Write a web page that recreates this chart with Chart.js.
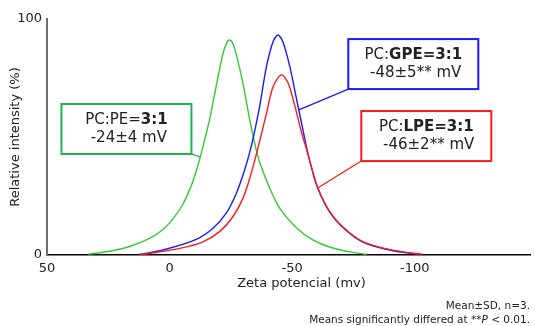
<!DOCTYPE html>
<html lang="en">
<head>
    <meta charset="UTF-8">
    <title>zeta potential</title>
    <style type="text/css">
        body{
            margin: 0;
            background: #fff;
        }
    </style>
    <script src="https://cdn.jsdelivr.net/npm/chart.js@4.4.1/dist/chart.umd.min.js"></script>
</head>
<body>
    <canvas id="myChart" width="535" height="326"></canvas>

    <script>
    // zeta potential (mV) vs relative intensity (%)
    const pePot  = [33, 23.3, 16.3, 8.2, 2.7, -1.3, -5.4, -8.9, -11, -13, -16, -19, -21.8, -23.5, -24.5, -25.7, -27.2, -29.9, -32.7, -35, -36.7, -40.8, -44.9, -51.8, -58.4, -65.3, -73.5, -80.4];
    const peInt  = [0.3, 1.8, 3.6, 7.0, 10.8, 15.2, 21.5, 29.5, 36, 43.5, 56, 71.5, 85.5, 90.3, 91.1, 89.8, 85, 72.8, 57.2, 46, 39.4, 28.4, 19.9, 11.4, 6.4, 3.4, 1.3, 0.3];

    const gpePot = [12.2, 2.7, -10.9, -17.7, -23.1, -27.2, -30.6, -33.3, -36.7, -39.5, -42.2, -44.2, -46.2, -49, -51.7, -54.4, -56, -57.5, -60.4, -65.3, -71.5, -78.8, -89.8, -101];
    const gpeInt = [0.3, 2.1, 6.6, 11.3, 17.7, 26.1, 36, 46, 62.8, 79.8, 90.4, 93.2, 90.4, 80, 66.5, 53, 45, 38.5, 28.4, 18.2, 10.9, 5.5, 2.1, 0.3];

    const lpePot = [12.2, -4.1, -13.6, -20.4, -25.8, -29.9, -32.7, -36, -39.5, -42.2, -45.6, -48.3, -51, -53.8, -55.8, -57.5, -60.4, -65.3, -71.5, -78.8, -89.8, -103];
    const lpeInt = [0, 2.8, 5.6, 9.9, 16.2, 24, 32.5, 45.2, 60, 71.3, 76.3, 73, 63.5, 52, 45, 38.6, 28.6, 18.4, 11.1, 5.7, 2.3, 0.3];

    const xTicks = [50, 0, -50, -100];
    const yTicks = [0, 100];
    const xTitle = 'Zeta potencial (mv)';

    const labelPlain = ['PC:PE=', 'PC:', 'PC:'];
    const labelBold  = ['3:1', 'GPE=3:1', 'LPE=3:1'];
    const labelZeta  = [' -24±4 mV', ' -48±5** mV', ' -46±2** mV'];

    const noteLine1 = 'Mean±SD, n=3.';
    const noteLine2 = ['Means significantly differed at **', 'P', ' < 0.01.'];

    const FONT = '"DejaVu Sans", Verdana, sans-serif';

    const toPoints = (xs, ys) => xs.map((x, i) => ({x: x, y: ys[i]}));

    //setup block
    const data = {
        datasets: [{
            label: 'PC:LPE=3:1',
            data: toPoints(lpePot, lpeInt),
            borderColor: '#ff1a1a',
            order: 0
        }, {
            label: 'PC:GPE=3:1',
            data: toPoints(gpePot, gpeInt),
            borderColor: '#1a1aff',
            order: 1
        }, {
            label: 'PC:PE=3:1',
            data: toPoints(pePot, peInt),
            borderColor: '#33cc33',
            order: 2
        }]
    };

    // boxes: centre in data units, connector end on the curve
    const boxes = [
        {cx: 17.6,   cy: 53.4, corner: 'br', tx: -12.6, ty: 41.5, color: '#1db454'},
        {cx: -99.4,  cy: 80.9, corner: 'bl', tx: -52.7, ty: 61.5, color: '#1a1aff'},
        {cx: -104.7, cy: 50.4, corner: 'bl', tx: -60.4, ty: 28.4, color: '#ff1a1a'}
    ];

    function drawMixed(ctx, parts, x, y, align) {
        let w = 0;
        parts.forEach(p => { ctx.font = p.font; w += ctx.measureText(p.t).width; });
        let sx = align === 'right' ? x - w : x - w / 2;
        ctx.textAlign = 'left';
        parts.forEach(p => {
            ctx.font = p.font;
            ctx.fillText(p.t, sx, y);
            sx += ctx.measureText(p.t).width;
        });
    }

    const notes = {
        id: 'notes',
        afterDraw(chart) {
            const ctx = chart.ctx;
            const xs = chart.scales.x, ys = chart.scales.y;
            const area = chart.chartArea;
            const bw = 130, bh = 50;
            ctx.save();
            ctx.textBaseline = 'middle';
            boxes.forEach((b, i) => {
                const cx = xs.getPixelForValue(b.cx);
                const cy = ys.getPixelForValue(b.cy);
                const l = cx - bw / 2, t = cy - bh / 2;
                ctx.strokeStyle = b.color;
                ctx.lineWidth = 1.3;
                ctx.beginPath();
                ctx.moveTo(b.corner === 'br' ? l + bw : l, t + bh);
                ctx.lineTo(xs.getPixelForValue(b.tx), ys.getPixelForValue(b.ty));
                ctx.stroke();
                ctx.fillStyle = '#fff';
                ctx.fillRect(l, t, bw, bh);
                ctx.lineWidth = 2;
                ctx.strokeRect(l, t, bw, bh);
                ctx.fillStyle = '#222';
                drawMixed(ctx, [
                    {t: labelPlain[i], font: '15px ' + FONT},
                    {t: labelBold[i], font: 'bold 15px ' + FONT}
                ], cx, cy - 9, 'center');
                drawMixed(ctx, [{t: labelZeta[i], font: '15px ' + FONT}], cx, cy + 9, 'center');
            });
            // axis title sits a little right of the plot centre in the original
            drawMixed(ctx, [{t: xTitle, font: '13px ' + FONT}], (area.left + area.right) / 2 + 13, 284, 'center');
            // footnotes
            const r = chart.width - 5;
            drawMixed(ctx, [{t: noteLine1, font: '10.5px ' + FONT}], r, 306, 'right');
            drawMixed(ctx, [
                {t: noteLine2[0], font: '10.5px ' + FONT},
                {t: noteLine2[1], font: 'italic 10.5px ' + FONT},
                {t: noteLine2[2], font: '10.5px ' + FONT}
            ], r, 320, 'right');
            ctx.restore();
        }
    };

    //config block
    const config = {
        type: 'line',
        data,
        plugins: [notes],
        options: {
            responsive: false,
            animation: false,
            devicePixelRatio: 1,
            layout: {
                padding: {top: 19, right: 5, left: 0, bottom: 0}
            },
            elements: {
                point: {radius: 0},
                line: {borderWidth: 1.4, tension: 0.3, fill: false}
            },
            plugins: {
                legend: {display: false},
                tooltip: {enabled: false}
            },
            scales: {
                x: {
                    type: 'linear',
                    reverse: true,
                    min: -147,
                    max: 50,
                    afterBuildTicks: s => { s.ticks = xTicks.map(v => ({value: v})); },
                    afterFit: s => { s.height = 71; },
                    grid: {display: false, drawTicks: false},
                    border: {color: '#000', width: 1.5},
                    ticks: {
                        color: '#222',
                        padding: 6,
                        maxRotation: 0,
                        autoSkip: false,
                        font: {family: FONT, size: 13}
                    }
                },
                y: {
                    min: 0,
                    max: 100,
                    afterBuildTicks: s => { s.ticks = yTicks.map(v => ({value: v})); },
                    afterFit: s => { s.width = 47; },
                    grid: {display: false, drawTicks: false},
                    border: {color: '#6e6e6e', width: 2},
                    ticks: {
                        color: '#222',
                        padding: 5,
                        font: {family: FONT, size: 13}
                    },
                    title: {
                        display: true,
                        text: 'Relative intensity (%)',
                        color: '#222',
                        font: {family: FONT, size: 13},
                        padding: {top: 8, bottom: 0}
                    }
                }
            }
        }
    };

    //render init block
    const myChart = new Chart(
        document.getElementById('myChart'),
        config
    );
    </script>
</body>
</html>
